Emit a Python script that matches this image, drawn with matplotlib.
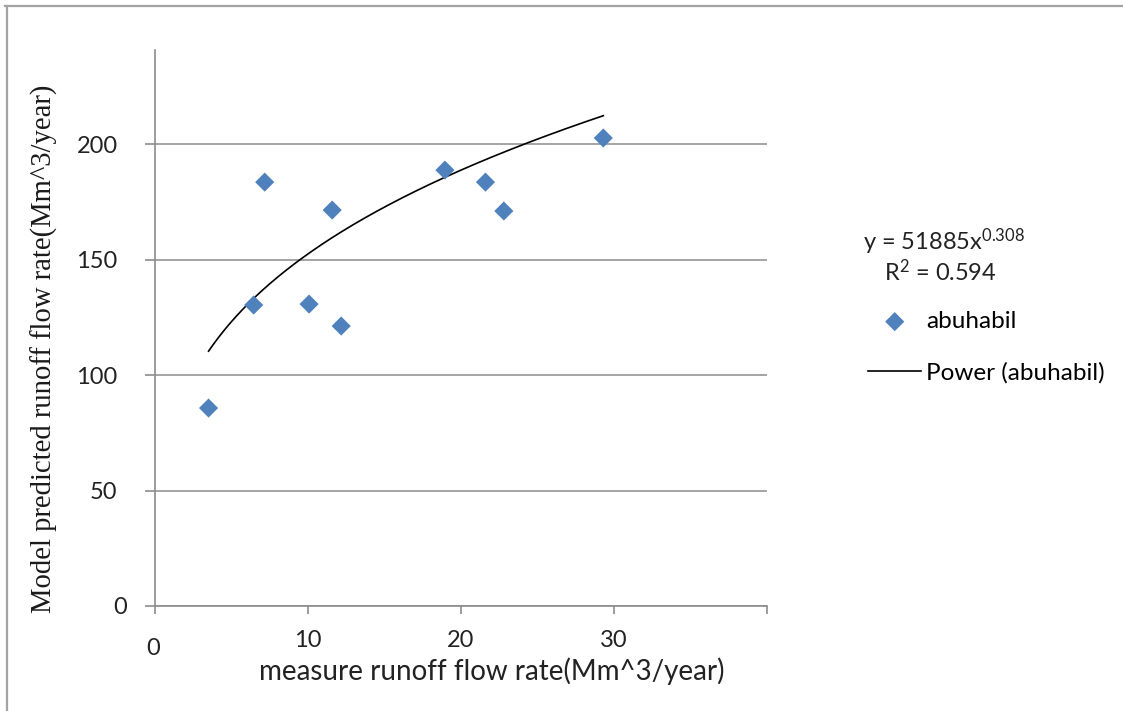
import matplotlib
matplotlib.use("Agg")
import matplotlib.pyplot as plt
from matplotlib.lines import Line2D
from matplotlib.transforms import ScaledTranslation
import numpy as np

# Measured vs. model-predicted runoff (Mm^3/year)
measured = [3.5, 6.45, 7.17, 10.07, 11.58, 12.17, 18.95, 21.6, 22.8, 29.3]
predicted = [85.7, 130.3, 183.5, 130.7, 171.4, 121.2, 188.7, 183.5, 171.0, 202.6]

x_ticks = [0, 10, 20, 30, 40]
x_tick_labels = ["0", "10", "20", "30", ""]
y_ticks = [0, 50, 100, 150, 200]
y_tick_labels = ["0", "50", "100", "150", "200"]

# Power trendline y = a * x^b
trend_coef = 75.0
trend_exp = 0.308
equation_coef_label = "51885"
r_squared = 0.594
series_name = "abuhabil"

SANS = "Lato"
SERIF = "Liberation Serif"
GRID = "#8c8c8c"
BLUE = "#4f81bd"
TEXT = "#222222"

plt.rcParams["mathtext.fontset"] = "custom"
plt.rcParams["mathtext.rm"] = SANS
plt.rcParams["mathtext.it"] = SANS
plt.rcParams["mathtext.bf"] = SANS

W, H = 1123, 711
fig = plt.figure(figsize=(W / 100, H / 100), dpi=100)
fig.patch.set_facecolor("white")

# Outer chart frame (top and left edges)
fig.add_artist(Line2D([5 / W, 1], [1 - 6 / H, 1 - 6 / H], transform=fig.transFigure,
                      color="#a3a3a3", lw=1.6))
fig.add_artist(Line2D([7 / W, 7 / W], [0, 1 - 6 / H], transform=fig.transFigure,
                      color="#a3a3a3", lw=1.6))

ax = fig.add_axes([155 / W, 1 - 606 / H, (767 - 155) / W, (606 - 50) / H])
ax.set_xlim(0, 40)
ax.set_ylim(0, 240.7)

for side in ("top", "right"):
    ax.spines[side].set_visible(False)
for side in ("left", "bottom"):
    ax.spines[side].set_color(GRID)
    ax.spines[side].set_linewidth(1.2)

ax.tick_params(axis="x", direction="out", length=6, width=1.2, color=GRID,
               pad=11, labelsize=17, labelcolor=TEXT)
ax.tick_params(axis="y", direction="out", length=7, width=1.2, color=GRID,
               pad=20, labelsize=17, labelcolor=TEXT)
ax.set_xticks(x_ticks)
ax.set_xticklabels(x_tick_labels, fontfamily=SANS)
ax.set_yticks(y_ticks)
ax.set_yticklabels(y_tick_labels, fontfamily=SANS)

# The zero labels sit slightly apart from the rest
xl0 = ax.get_xticklabels()[0]
xl0.set_transform(xl0.get_transform() + ScaledTranslation(-2 / 100, -8 / 100, fig.dpi_scale_trans))
yl0 = ax.get_yticklabels()[0]
yl0.set_transform(yl0.get_transform() + ScaledTranslation(9 / 100, 0, fig.dpi_scale_trans))

ax.yaxis.grid(True, color=GRID, lw=1.1)
ax.set_axisbelow(True)

ax.scatter(measured, predicted, marker="D", s=95, color=BLUE, edgecolors="none",
           zorder=3, label=series_name)

xs = np.linspace(min(measured), max(measured), 200)
ax.plot(xs, trend_coef * xs ** trend_exp, color="black", lw=1.2, zorder=2,
        label=f"Power ({series_name})")

ax.set_xlabel("measure runoff flow rate(Mm^3/year)", fontfamily=SANS, fontsize=20,
              color=TEXT)
ax.xaxis.set_label_coords((492 - 155) / 612, (606 - 657) / 556)
ax.set_ylabel("Model predicted runoff flow rate(Mm^3/year)", fontfamily=SERIF,
              fontsize=20.6, color="#1a1a1a")
ax.yaxis.set_label_coords((58 - 155) / 612, (606 - 349) / 556)

# Trendline equation
fig.text(944 / W, 1 - 242 / H, f"y = {equation_coef_label}x$^{{{trend_exp}}}$",
         fontfamily=SANS, fontsize=17, ha="center", va="center", color=TEXT)
fig.text(940 / W, 1 - 272 / H, f"R$^{{2}}$ = {r_squared}", fontfamily=SANS, fontsize=17,
         ha="center", va="center", color=TEXT)

leg = fig.legend(loc="upper left", bbox_to_anchor=(868 / W, 1 - 311 / H), frameon=False,
                 prop={"family": SANS, "size": 17.5}, handlelength=2.2,
                 handletextpad=0.2, labelspacing=1.25, borderaxespad=0, borderpad=0)

fig.savefig("out.png", dpi=100, facecolor="white")
